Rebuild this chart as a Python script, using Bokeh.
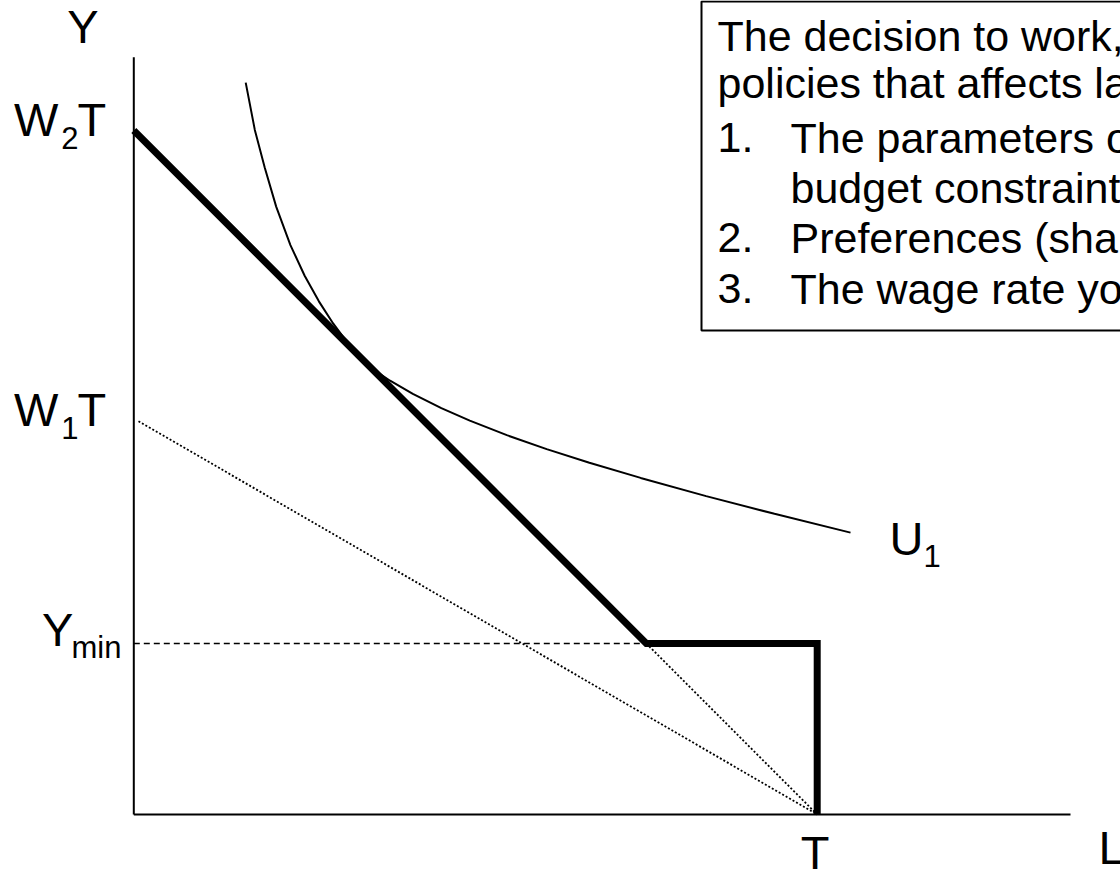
from bokeh.plotting import figure
from bokeh.models import Range1d, Label, BoxAnnotation
from bokeh.embed import file_html
from bokeh.resources import INLINE

# Labour-supply diagram: leisure (L) on the x axis, income (Y) on the y axis
hours_total = 24.0      # T, total time endowment
wage_low = 5.75         # W1
wage_high = 10.0        # W2
income_floor = 60.0     # Y_min guaranteed by the programme

# indifference curve U1, tangent to the W2 budget line
indiff_leisure = [3.93, 4.25, 4.6, 5.0, 5.5, 6.0, 6.5, 7.0, 7.5, 7.75, 8.0, 8.25, 8.5,
                  9.0, 9.8, 10.8, 11.8, 13.1, 14.5, 16.0, 17.8, 20.1, 22.5, 25.17]
indiff_income = [256.8, 240.2, 226.9, 213.3, 199.8, 189.05, 180.05, 172.3, 165.6, 162.65,
                 160.0, 157.65, 155.6, 152.2, 147.6, 142.6, 138.2, 133.1, 128.2, 123.4,
                 118.1, 111.7, 105.5, 98.9]

box_lines = [
    ("", "The decision to work, and"),
    ("", "policies that affects labor"),
    ("1.", "The parameters of the"),
    ("", "budget constraint"),
    ("2.", "Preferences (shape of"),
    ("3.", "The wage rate you"),
]

W, H = 1120, 873
ORIGIN_X_PX, PX_PER_HOUR = 133.3, 28.475
ORIGIN_Y_PX, PX_PER_UNIT = 814.0, 2.85


def data_x(px):
    return (px - ORIGIN_X_PX) / PX_PER_HOUR


def data_y(py):
    return (ORIGIN_Y_PX - py) / PX_PER_UNIT


def px_x(v):
    return ORIGIN_X_PX + v * PX_PER_HOUR


def px_y(v):
    return ORIGIN_Y_PX - v * PX_PER_UNIT


p = figure(width=W, height=H, output_backend="svg", toolbar_location=None,
           x_range=Range1d(data_x(0), data_x(W)), y_range=Range1d(data_y(H), data_y(0)),
           x_axis_location=None, y_axis_location=None, min_border=0)
p.grid.visible = False
p.outline_line_color = None
p.background_fill_color = "white"
p.border_fill_color = "white"

kink_leisure = hours_total - income_floor / wage_high

# guide lines
p.line([0, kink_leisure], [income_floor, income_floor], line_color="black",
       line_width=1.5, line_dash="6 4")
p.line([data_x(138), hours_total], [wage_low * hours_total, 0], line_color="black",
       line_width=1.8, line_dash="2 2")
p.line([kink_leisure, hours_total], [income_floor, 0], line_color="black",
       line_width=1.8, line_dash="2 2")

# indifference curve
p.line(indiff_leisure, indiff_income, line_color="black", line_width=2)

# budget constraint with income floor
p.line([0, kink_leisure, hours_total, hours_total],
       [wage_high * hours_total, income_floor, income_floor, 0],
       line_color="black", line_width=7, line_join="miter", line_cap="butt")

# axes
p.line([0, 0], [0, data_y(56.7)], line_color="black", line_width=2)
p.line([0, data_x(1070)], [0, 0], line_color="black", line_width=2)

FONT = "Liberation Sans"
# Label draws its text this fraction of the font size below the requested baseline
LABEL_DROP = 0.41


def label(px, py, text, size, align="left"):
    py = py - LABEL_DROP * size
    p.add_layout(Label(x=data_x(px), y=data_y(py), text=text, text_font=FONT,
                       text_font_size=f"{size}px", text_align=align,
                       text_baseline="alphabetic", text_color="black"))


BIG, SUB, BOX = 47, 31, 43

label(82.5, 45, "Y", BIG, "center")
label(1098, 866, "L", BIG)
label(px_x(hours_total) - 2, ORIGIN_Y_PX + 57, "T", BIG, "center")

for wage, sub in ((wage_high, "2"), (wage_low, "1")):
    lvl = px_y(wage * hours_total)
    label(13.5, lvl + 8, "W", BIG)
    label(60.7, lvl + 20, sub, SUB)
    label(77, lvl + 8, "T", BIG)

floor_lvl = px_y(income_floor)
label(41.5, floor_lvl + 5, "Y", BIG)
label(71, floor_lvl + 17, "min", SUB)

label(889, 557, "U", BIG)
label(923, 568, "1", SUB)

# text box
p.add_layout(BoxAnnotation(left=data_x(701), right=data_x(W + 20), top=data_y(1),
                           bottom=data_y(330), fill_color="white", fill_alpha=1.0,
                           line_color="black", line_alpha=1.0, line_width=2))
baselines = [53, 100, 155, 205, 255, 306]
for (num, txt), base in zip(box_lines, baselines):
    if num:
        label(717, base, num, BOX)
        label(790, base, txt, BOX)
    elif txt.startswith("budget"):
        label(790, base, txt, BOX)
    else:
        label(717, base, txt, BOX)

open("out.html", "w").write(file_html(p, INLINE))
